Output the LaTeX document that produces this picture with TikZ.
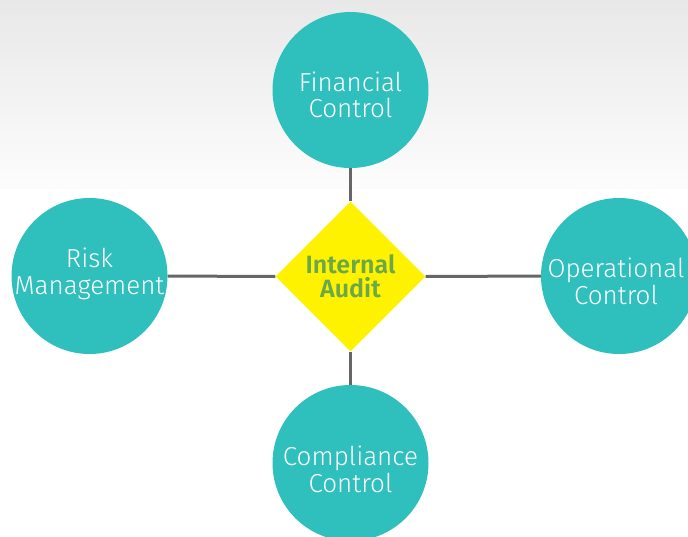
\documentclass[tikz,border=0pt]{standalone}
\usepackage{fontspec}
\setmainfont{Fira Sans}[UprightFont=* Light,BoldFont=* SemiBold]
\usetikzlibrary{shapes.geometric}
\definecolor{teal}{HTML}{2FBFBD}
\definecolor{auditYellow}{HTML}{FFF200}
\definecolor{auditGreen}{HTML}{6AA84A}
\definecolor{linkGrey}{HTML}{666666}
\begin{document}
\begin{tikzpicture}[x=1pt,y=-1pt,
  area/.style={circle,fill=teal,minimum size=156pt,inner sep=0pt},
  areatext/.style={text=white,align=center,inner sep=0pt,font=\fontsize{26}{26.5}\selectfont},
  audit/.style={diamond,fill=auditYellow,minimum width=150pt,minimum height=150pt,
    inner sep=0pt,text=auditGreen,align=center,font=\fontsize{25}{24}\selectfont\bfseries},
  link/.style={draw=linkGrey,line width=3pt}]
\clip (0,0) rectangle (688,536);
\useasboundingbox (0,0) rectangle (688,536);
\shade[top color=black!9,bottom color=black!1] (0,0) rectangle (688,188);
\node[audit] (ia) at (350.5,276.5){Internal\\Audit};
\node[area] (fin) at (350.5,90){};
\node[area] (risk) at (89.5,276){};
\node[area] (oper) at (619,276){};
\node[area] (comp) at (350.5,463){};
\node[areatext] (finT) at (350.5,95){Financial\\Control};
\node[areatext] (riskT) at (89.5,274){Risk\\Management};
\node[areatext] (operT) at (616,281.5){Operational\\Control};
\node[areatext] (compT) at (350.5,469.5){Compliance\\Control};
\draw[link] (fin) -- (ia);
\draw[link] (risk) -- (ia);
\draw[link] (oper) -- (ia);
\draw[link] (comp) -- (ia);
\end{tikzpicture}
\end{document}
